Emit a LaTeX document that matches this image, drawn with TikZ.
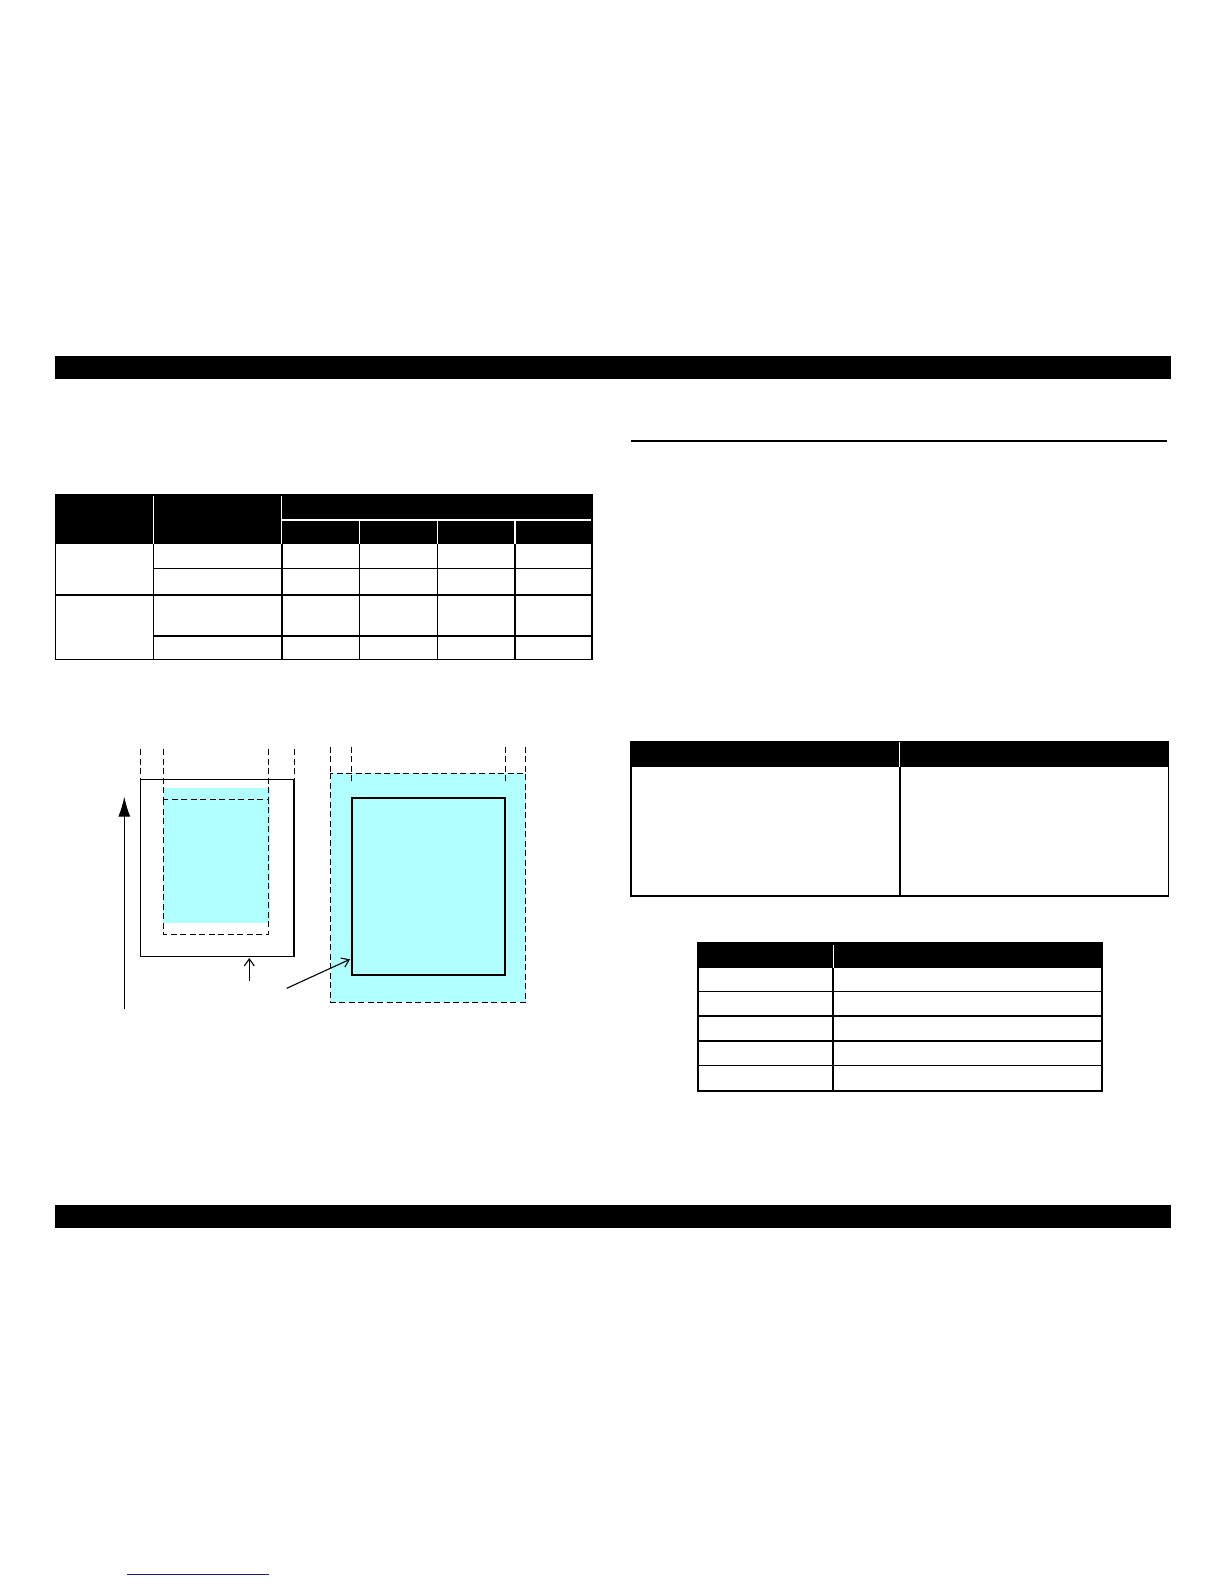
\documentclass[tikz,border=0pt]{standalone}
\usepackage{xcolor}
\usepackage{tikz}
\usetikzlibrary{arrows.meta,calc,positioning}
\definecolor{printCyan}{RGB}{178,255,255}
\definecolor{linkBlue}{RGB}{25,25,140}
\tikzset{
  bar/.style={fill=black},                  % page header / footer bars
  rule/.style={draw, line width=1.2pt},
  cell/.style={draw, line width=1.5pt},
  outer/.style={draw, line width=2.4pt},
  hdr/.style={fill=black},                  % table heading row
  gap/.style={draw=white, line width=1.2pt},% white split in heading
  dashes/.style={dash pattern=on 6pt off 3.5pt, line width=1pt},
  sheet/.style={draw, line width=1.5pt},
  printEdge/.style={draw, line width=2pt},
  area/.style={fill=printCyan},
  feedArrow/.style={-{Latex[length=20pt,width=12pt]}, line width=1.1pt},
  pointArrow/.style={-{Straight Barb[length=7pt,width=10pt]}, line width=1.1pt}
}
\newcommand{\RowLines}[3]{% x-from, x-to, list of y
  \foreach \yy in {#3}{\draw[cell] (#1,\yy) -- (#2,\yy);}%
}
\newcommand{\ColLines}[3]{% y-from, y-to, list of x
  \foreach \xx in {#3}{\draw[cell] (\xx,#1) -- (\xx,#2);}%
}
\begin{document}
\begin{tikzpicture}[x=1pt, y=-1pt]
  \useasboundingbox (0,0) rectangle (1224,1584);
  % header and footer bars
  \fill[bar] (54.5,355.5) rectangle (1170.5,378.7);
  \fill[bar] (54.5,1205) rectangle (1170.5,1228);
  \draw[rule] (631,441) -- (1167,441);

  % left table
  \fill[hdr] (55.5,495) rectangle (592,544.3);
  \draw[gap] (153.5,495) -- (153.5,544.3);
  \draw[gap] (281.8,495) -- (281.8,544.3);
  \draw[gap] (281.8,520) -- (592,520);
  \foreach \xx in {359.5,437.3,515}{\draw[gap] (\xx,520) -- (\xx,544.3);}
  \ColLines{544.3}{659.5}{153.5,281.8,359.5,437.3,515}
  \RowLines{153.5}{592}{568.6,636.2}
  \RowLines{55.5}{592}{594.8}
  \draw[cell] (55.5,495) rectangle (592,659.5);

  % printable area sketch, left sheet
  \fill[area] (163.3,788) rectangle (270,923);
  \draw[sheet] (140.7,779.3) rectangle (294,956.3);
  \draw[dashes] (163.3,799.3) rectangle (268.3,934.3);
  \foreach \xx in {140.7,294}{\draw[dashes] (\xx,749) -- (\xx,779.3);}
  \foreach \xx in {163.3,268.3}{\draw[dashes] (\xx,749) -- (\xx,799.3);}
  \coordinate (feedTail) at (124.3,1009.3);
  \coordinate (feedTip) at (124.3,796.7);
  \draw[feedArrow] (feedTail) -- (feedTip);
  \coordinate (edgeTail) at (249.3,980.7);
  \coordinate (edgeTip) at (249.3,958);
  \draw[pointArrow] (edgeTail) -- (edgeTip);

  % printable area sketch, right sheet
  \fill[area] (330.7,773.3) rectangle (525.7,1002.3);
  \draw[dashes] (330.7,773.3) rectangle (525.7,1002.3);
  \foreach \xx in {330.7,525.7}{\draw[dashes] (\xx,746.7) -- (\xx,773.3);}
  \foreach \xx in {351.7,505.3}{\draw[dashes] (\xx,746.7) -- (\xx,783.3);}
  \draw[printEdge] (351.7,797.7) rectangle (505.3,975);
  \coordinate (marginTail) at (286.7,988.3);
  \coordinate (marginTip) at (350,959.3);
  \draw[pointArrow] (marginTail) -- (marginTip);

  % right upper table
  \fill[hdr] (631,741.3) rectangle (1168.5,766.5);
  \draw[gap] (899.8,741.3) -- (899.8,766.5);
  \ColLines{766.5}{895.8}{899.8}
  \draw[cell] (631,741.3) rectangle (1168.5,895.8);

  % right lower table
  \fill[hdr] (697.9,943.3) rectangle (1101.8,967.5);
  \draw[gap] (833.2,943.3) -- (833.2,967.5);
  \ColLines{967.5}{1090.7}{833.2}
  \RowLines{697.9}{1101.8}{991.7,1016,1041.2,1065.4}
  \draw[outer] (697.9,943.3) rectangle (1101.8,1090.7);

  % footer link rule
  \draw[linkBlue, line width=1.2pt] (127,1574.5) -- (269,1574.5);
\end{tikzpicture}
\end{document}
